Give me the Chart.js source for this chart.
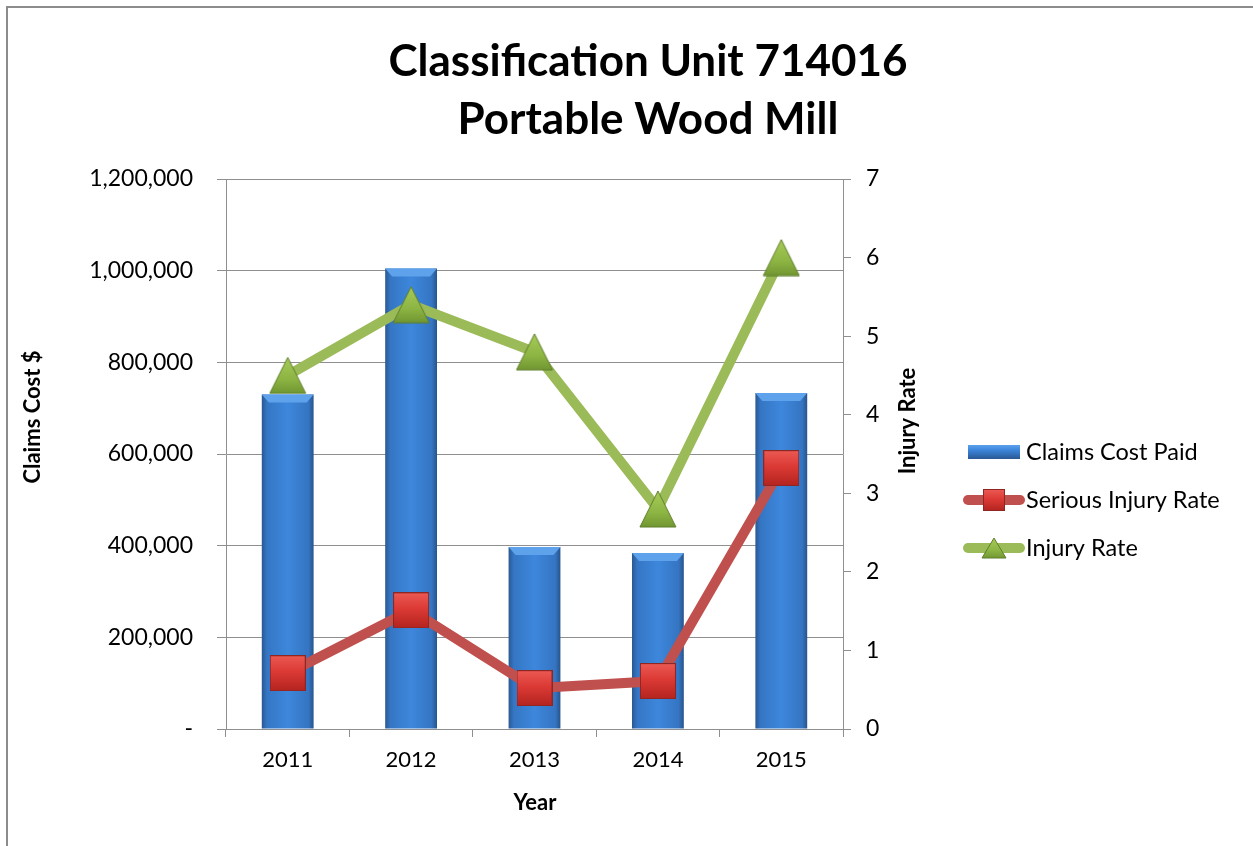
<!DOCTYPE html>
<html>
<head>
<meta charset="utf-8">
<script src="https://cdn.jsdelivr.net/npm/chart.js@4/dist/chart.umd.min.js"></script>
<style>
  html, body { margin: 0; padding: 0; background: #fff; }
  #wrap { width: 1253px; height: 846px; position: relative; }
</style>
</head>
<body>
<div id="wrap"><canvas id="chart" width="1253" height="846"></canvas></div>
<script>
const years = ['2011', '2012', '2013', '2014', '2015'];
const claimsCost = [730000, 1005000, 397000, 384000, 733000];
const seriousRate = [0.71, 1.51, 0.52, 0.61, 3.32];
const injuryRate = [4.5, 5.4, 4.8, 2.8, 6.0];

const FONT = 'Lato, "Open Sans", sans-serif';
const GRID = '#8f8f8f';
const BAR_PCT = 0.42;

function squareMarker(size) {
  const cv = document.createElement('canvas');
  cv.width = size; cv.height = size;
  const c = cv.getContext('2d');
  const g = c.createLinearGradient(0, 0, 0, size);
  g.addColorStop(0, '#ec5a54');
  g.addColorStop(0.45, '#dc3a35');
  g.addColorStop(1, '#b3241f');
  c.fillStyle = g;
  c.fillRect(0.5, 0.5, size - 1, size - 1);
  c.strokeStyle = '#8e2623';
  c.lineWidth = 1;
  c.strokeRect(0.5, 0.5, size - 1, size - 1);
  return cv;
}

function triangleMarker(w, h) {
  const cv = document.createElement('canvas');
  cv.width = w; cv.height = h;
  const c = cv.getContext('2d');
  const g = c.createLinearGradient(0, 0, 0, h);
  g.addColorStop(0, '#a8cc5a');
  g.addColorStop(0.6, '#8db543');
  g.addColorStop(1, '#6f9431');
  c.fillStyle = g;
  c.strokeStyle = '#5f7e2a';
  c.lineWidth = 1;
  c.beginPath();
  c.moveTo(w / 2, 1); c.lineTo(w - 1, h - 1); c.lineTo(1, h - 1); c.closePath();
  c.fill(); c.stroke();
  return cv;
}

const squareImg = squareMarker(36);
const triangleImg = triangleMarker(38, 38);
const squareLegend = squareMarker(22);
const triangleLegend = triangleMarker(26, 22);

function barFill(ctx) {
  const x = ctx.chart.scales.x;
  if (!x || ctx.type !== 'data') return '#3c7fcc';
  const cx = x.getPixelForValue(ctx.dataIndex);
  const half = (x.width / years.length) * BAR_PCT / 2;
  if (!isFinite(cx) || !isFinite(half) || half <= 0) return '#3c7fcc';
  const g = ctx.chart.ctx.createLinearGradient(cx - half, 0, cx + half, 0);
  g.addColorStop(0, '#2a5892');
  g.addColorStop(0.1, '#3576c4');
  g.addColorStop(0.5, '#3d87dc');
  g.addColorStop(0.9, '#3575c2');
  g.addColorStop(1, '#28548c');
  return g;
}

const decorations = {
  id: 'decorations',
  afterDatasetDraw(chart, args) {
    if (args.index !== 0) return;
    const c = chart.ctx;
    chart.getDatasetMeta(0).data.forEach(bar => {
      const l = bar.x - bar.width / 2, r = bar.x + bar.width / 2, t = bar.y;
      c.save();
      c.fillStyle = '#5ea2ec';
      c.beginPath();
      c.moveTo(l, t); c.lineTo(r, t); c.lineTo(r - 7, t + 8); c.lineTo(l + 7, t + 8);
      c.closePath(); c.fill();
      c.restore();
    });
  },
  afterDraw(chart) {
    const c = chart.ctx;
    c.save();
    // frame
    c.fillStyle = '#8c8c8c';
    c.fillRect(6, 6, 1253, 2);
    c.fillRect(6, 6, 2, 846);

    // title
    c.fillStyle = '#000';
    c.textAlign = 'center';
    c.textBaseline = 'middle';
    c.font = 'bold 44px ' + FONT;
    c.fillText('Classification Unit 714016', 648, 62);
    c.fillText('Portable Wood Mill', 648, 120);

    // axis titles
    c.font = 'bold 22px ' + FONT;
    c.fillText('Year', 535, 803);
    c.save();
    c.translate(33, 417); c.rotate(-Math.PI / 2);
    c.fillText('Claims Cost $', 0, 0);
    c.restore();
    c.save();
    c.translate(908, 421); c.rotate(-Math.PI / 2);
    c.fillText('Injury Rate', 0, 0);
    c.restore();

    // legend
    const ds = chart.data.datasets;
    const rows = [452, 500, 548];
    c.textAlign = 'left';
    c.font = '23.5px ' + FONT;
    rows.forEach((y, i) => {
      const d = ds[i];
      if (i === 0) {
        const g = c.createLinearGradient(0, y - 7, 0, y + 7);
        g.addColorStop(0, '#5ea2ec');
        g.addColorStop(0.35, '#3d87dc');
        g.addColorStop(1, '#2a5892');
        c.fillStyle = g;
        c.fillRect(968, y - 7, 52, 14);
      } else {
        c.strokeStyle = d.borderColor;
        c.lineWidth = 10;
        c.lineCap = 'round';
        c.beginPath(); c.moveTo(968, y); c.lineTo(1020, y); c.stroke();
        const img = i === 1 ? squareLegend : triangleLegend;
        c.drawImage(img, 994 - img.width / 2, y - img.height / 2);
      }
      c.fillStyle = '#000';
      c.textBaseline = 'middle';
      c.fillText(d.label, 1026, y);
    });
    c.restore();
  }
};

new Chart(document.getElementById('chart'), {
  data: {
    labels: years,
    datasets: [
      {
        type: 'bar',
        label: 'Claims Cost Paid',
        data: claimsCost,
        yAxisID: 'y',
        backgroundColor: barFill,
        borderWidth: 0,
        barPercentage: BAR_PCT,
        categoryPercentage: 1,
        order: 3
      },
      {
        type: 'line',
        label: 'Serious Injury Rate',
        data: seriousRate,
        yAxisID: 'y1',
        borderColor: '#c0504d',
        borderWidth: 10,
        pointStyle: squareImg,
        pointRadius: 18,
        pointHoverRadius: 18,
        order: 2
      },
      {
        type: 'line',
        label: 'Injury Rate',
        data: injuryRate,
        yAxisID: 'y1',
        borderColor: '#9bbb59',
        borderWidth: 10,
        pointStyle: triangleImg,
        pointRadius: 19,
        pointHoverRadius: 19,
        order: 1
      }
    ]
  },
  options: {
    responsive: false,
    animation: false,
    layout: { padding: { left: 0, top: 179, right: 0, bottom: 0 } },
    plugins: {
      legend: { display: false },
      title: { display: false },
      tooltip: { enabled: false }
    },
    scales: {
      x: {
        offset: true,
        grid: { offset: true, drawOnChartArea: false, color: GRID, tickLength: 8, tickColor: GRID },
        border: { color: GRID, width: 1 },
        ticks: { color: '#000', font: { family: FONT, size: 22 }, padding: 10 },
        afterFit(scale) { scale.height = 117; }
      },
      y: {
        position: 'left',
        min: 0,
        max: 1200000,
        ticks: {
          stepSize: 200000,
          color: '#000',
          padding: 24,
          font: { family: FONT, size: 23 },
          callback: v => v === 0 ? '-' : v.toLocaleString('en-US')
        },
        grid: { color: GRID, tickLength: 9, tickColor: GRID },
        border: { color: GRID, width: 1 },
        afterFit(scale) { scale.width = 226; }
      },
      y1: {
        position: 'right',
        min: 0,
        max: 7,
        ticks: { stepSize: 1, color: '#000', padding: 15, font: { family: FONT, size: 23 } },
        grid: { drawOnChartArea: false, color: GRID, tickLength: 8, tickColor: GRID },
        border: { color: GRID, width: 1 },
        afterFit(scale) { scale.width = 1253 - 843; }
      }
    }
  },
  plugins: [decorations]
});
</script>
</body>
</html>
